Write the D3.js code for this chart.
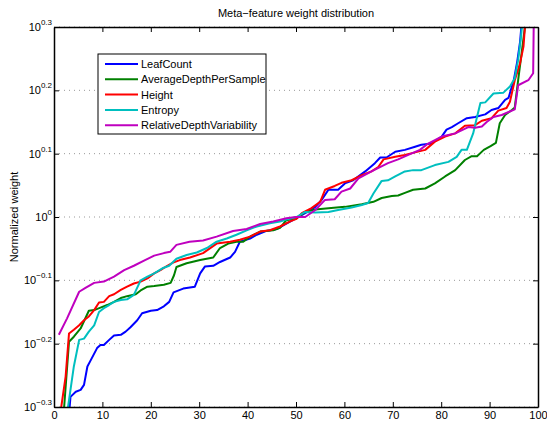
<!doctype html>
<meta charset="utf-8">
<title>Meta-feature weight distribution</title>
<script src="https://cdn.jsdelivr.net/npm/d3@7"></script>
<style>
body { margin: 0; background: #fff; }
svg text { font-family: "Liberation Sans", Arial, sans-serif; fill: #000; }
</style>
<body>
<svg id="chart" width="547" height="421"></svg>
<script>
// values are log10(normalized weight) as [x, exponent]
var leafCount = [[2,-0.42],[3.4,-0.284],[4.5,-0.276],[5.5,-0.273],[6.2,-0.265],[6.9,-0.236],[7.6,-0.226],[8.9,-0.207],[9.6,-0.202],[10.3,-0.202],[11.4,-0.194],[12.4,-0.187],[13.8,-0.186],[14.8,-0.181],[15.8,-0.174],[17.2,-0.163],[18.2,-0.152],[20,-0.148],[21.3,-0.147],[22.7,-0.141],[23.8,-0.134],[24.7,-0.119],[26.7,-0.113],[29.1,-0.11],[30.2,-0.089],[31.2,-0.078],[32.9,-0.077],[34.3,-0.071],[36.4,-0.064],[37.4,-0.055],[38.4,-0.039],[40.5,-0.034],[41.9,-0.028],[43.9,-0.022],[46,-0.019],[48.1,-0.01],[49.8,-0.003],[51.9,0.006],[54,0.016],[55.3,0.027],[56.7,0.043],[58.7,0.043],[60.1,0.053],[61.8,0.058],[64.3,0.072],[66.3,0.085],[67.4,0.094],[68.7,0.094],[70.5,0.103],[72.5,0.106],[74.6,0.111],[75.9,0.114],[78,0.116],[80.1,0.127],[81.1,0.138],[82.2,0.142],[83.5,0.148],[85.3,0.156],[87,0.158],[89.1,0.162],[90.4,0.169],[91.8,0.172],[93.2,0.185],[93.9,0.188],[95,0.216],[95.7,0.245],[96.3,0.277],[97,0.34]];
var avgDepthPerSample = [[1,-0.5],[2,-0.31],[3.1,-0.197],[4.1,-0.189],[5.5,-0.176],[7.2,-0.148],[8.3,-0.147],[9.6,-0.143],[11,-0.139],[12.4,-0.134],[13.8,-0.128],[15.1,-0.125],[16.9,-0.122],[17.9,-0.116],[19.3,-0.11],[20.7,-0.109],[22.7,-0.107],[24.1,-0.104],[24.8,-0.092],[25.3,-0.079],[27.4,-0.073],[30.2,-0.068],[32.9,-0.064],[34.3,-0.049],[36,-0.042],[37.7,-0.039],[39.1,-0.039],[40.5,-0.031],[42.6,-0.023],[45.3,-0.021],[46.7,-0.017],[48,-0.005],[50.1,-0.002],[51.9,0.008],[54,0.012],[56.7,0.014],[60.1,0.016],[63.6,0.02],[66,0.024],[67.7,0.03],[69.8,0.033],[71.1,0.034],[72.5,0.038],[74.2,0.043],[76.7,0.045],[78.7,0.053],[80.8,0.064],[82.9,0.074],[84.9,0.09],[86.3,0.096],[87.4,0.096],[88.8,0.106],[90.2,0.112],[91.3,0.117],[92.1,0.148],[93.2,0.161],[94.6,0.169],[95.2,0.173],[95.9,0.216],[96.6,0.258],[97.3,0.3],[98,0.34]];
var heightVals = [[1,-0.36],[1.5,-0.3],[2.4,-0.252],[3.1,-0.184],[4.1,-0.178],[5.2,-0.171],[6.2,-0.163],[7.2,-0.157],[8.3,-0.147],[9.3,-0.135],[10.3,-0.134],[11.4,-0.125],[12.4,-0.122],[13.8,-0.115],[15.1,-0.11],[16.5,-0.105],[17.9,-0.102],[19.3,-0.097],[20.7,-0.089],[22,-0.084],[23.4,-0.077],[24.6,-0.072],[26,-0.068],[28.1,-0.064],[30.8,-0.057],[33.6,-0.042],[36.4,-0.039],[38.4,-0.036],[40.5,-0.031],[42.6,-0.023],[44.6,-0.021],[46.7,-0.015],[48.8,-0.007],[50.1,-0.003],[51.2,0.006],[53.2,0.014],[55,0.024],[56,0.043],[58,0.049],[59.4,0.054],[61.5,0.058],[63.6,0.066],[65.6,0.072],[67,0.079],[68.1,0.091],[70.5,0.095],[72.5,0.098],[74.6,0.102],[76.7,0.106],[78.7,0.119],[80.8,0.127],[82.9,0.132],[84.9,0.144],[87,0.145],[88.4,0.152],[90.4,0.156],[91.8,0.168],[93.5,0.172],[94.2,0.182],[95.2,0.216],[96.3,0.243],[97,0.269],[97.3,0.3],[98,0.36]];
var entropy = [[2,-0.36],[2.9,-0.3],[4.1,-0.236],[5.2,-0.194],[6.2,-0.192],[7.2,-0.181],[8.3,-0.171],[9.3,-0.15],[10.3,-0.144],[11.4,-0.139],[12.4,-0.134],[13.8,-0.131],[15.1,-0.13],[16.5,-0.123],[17.9,-0.1],[19.3,-0.094],[20.7,-0.089],[22.4,-0.081],[23.8,-0.077],[25.3,-0.066],[27.4,-0.06],[29.5,-0.056],[31.6,-0.049],[33.6,-0.039],[35.7,-0.034],[37.7,-0.028],[39.8,-0.021],[41.9,-0.015],[44.6,-0.01],[46.7,-0.007],[48,-0.004],[50.1,0],[51.9,0.008],[54,0.007],[56.7,0.008],[58.7,0.011],[61.5,0.015],[63.6,0.019],[64.9,0.022],[66,0.037],[67.7,0.057],[69,0.058],[70.5,0.064],[72.5,0.072],[74.2,0.074],[75.9,0.074],[78.7,0.082],[81.5,0.087],[83.2,0.095],[84.2,0.106],[85.3,0.106],[86.6,0.132],[87.4,0.158],[88.1,0.18],[89.1,0.181],[90.8,0.195],[92.8,0.196],[94.2,0.206],[95.2,0.219],[95.9,0.248],[96.5,0.285],[97,0.33]];
var relDepthVariability = [[1,-0.186],[2.7,-0.16],[5.2,-0.118],[6.5,-0.112],[8.3,-0.104],[10.3,-0.102],[12.4,-0.094],[14.5,-0.084],[16.5,-0.077],[18.6,-0.069],[20.7,-0.061],[22.7,-0.057],[24,-0.055],[25.3,-0.044],[28,-0.039],[30.8,-0.037],[33.6,-0.031],[37,-0.022],[39.8,-0.019],[42.6,-0.011],[45.3,-0.007],[48,-0.002],[50,0],[51.9,0],[54,0.011],[56,0.027],[58,0.028],[59.4,0.04],[61.2,0.045],[62.9,0.061],[65.6,0.072],[69,0.085],[71.1,0.091],[73.2,0.098],[75.6,0.106],[77.3,0.116],[80.1,0.127],[82.9,0.132],[85.6,0.142],[87,0.141],[88.4,0.143],[89.4,0.15],[90.8,0.158],[92.5,0.161],[95.2,0.17],[95.9,0.208],[98,0.216],[99,0.227],[99.2,0.36]];

var seriesNames = ["LeafCount", "AverageDepthPerSample", "Height", "Entropy", "RelativeDepthVariability"];
var seriesColors = ["#0000ff", "#008000", "#ff0000", "#00bfbf", "#bf00bf"];
var seriesData = [leafCount, avgDepthPerSample, heightVals, entropy, relDepthVariability];
var xTicks = [0, 10, 20, 30, 40, 50, 60, 70, 80, 90, 100];
var yTickExps = [-0.3, -0.2, -0.1, 0, 0.1, 0.2, 0.3];

var plotL = 54, plotR = 538, plotT = 27, plotB = 407;

var svg = d3.select("#chart");

var x = d3.scaleLinear().domain([0, 100]).range([plotL, plotR]);
var y = d3.scaleLog().domain([Math.pow(10, -0.3), Math.pow(10, 0.3)]).range([plotB, plotT]);

svg.append("defs").append("clipPath").attr("id", "plotclip")
  .append("rect").attr("x", plotL).attr("y", plotT)
  .attr("width", plotR - plotL).attr("height", plotB - plotT);

// dotted horizontal grid
svg.append("g").selectAll("line").data(yTickExps).enter().append("line")
  .attr("x1", plotL).attr("x2", plotR)
  .attr("y1", function(d) { return y(Math.pow(10, d)); })
  .attr("y2", function(d) { return y(Math.pow(10, d)); })
  .attr("stroke", "#999").attr("stroke-width", 1)
  .attr("stroke-dasharray", "1,4");

// curves
var line = d3.line()
  .x(function(d) { return x(d[0]); })
  .y(function(d) { return y(Math.pow(10, d[1])); });

svg.append("g").attr("clip-path", "url(#plotclip)")
  .selectAll("path").data(seriesData).enter().append("path")
  .attr("d", line)
  .attr("fill", "none")
  .attr("stroke", function(d, i) { return seriesColors[i]; })
  .attr("stroke-width", 2)
  .attr("stroke-linejoin", "round");

// axes, MATLAB box style with inward ticks
var yTickVals = yTickExps.map(function(e) { return Math.pow(10, e); });
var xAxisB = d3.axisBottom(x).tickValues(xTicks).tickSizeInner(-5).tickSizeOuter(0).tickPadding(4);
var xAxisT = d3.axisTop(x).tickValues(xTicks).tickSizeInner(-5).tickSizeOuter(0).tickFormat("");
var yAxisL = d3.axisLeft(y).tickValues(yTickVals).tickSizeInner(-5).tickSizeOuter(0).tickFormat("");
var yAxisR = d3.axisRight(y).tickValues(yTickVals).tickSizeInner(-5).tickSizeOuter(0).tickFormat("");

var gxb = svg.append("g").attr("transform", "translate(0," + plotB + ")").call(xAxisB);
svg.append("g").attr("transform", "translate(0," + plotT + ")").call(xAxisT);
svg.append("g").attr("transform", "translate(" + plotL + ",0)").call(yAxisL);
svg.append("g").attr("transform", "translate(" + plotR + ",0)").call(yAxisR);

svg.selectAll(".domain").attr("stroke", "#000").attr("stroke-width", 1.5);
svg.selectAll(".tick line").attr("stroke", "#000");
gxb.selectAll("text").attr("font-size", 11).attr("font-family", "Liberation Sans, Arial, sans-serif");

// y tick labels as 10^exp
var ylab = svg.append("g").selectAll("text").data(yTickExps).enter().append("text")
  .attr("x", plotL - 2)
  .attr("y", function(d) { return y(Math.pow(10, d)) + 4; })
  .attr("text-anchor", "end")
  .attr("font-size", 11);
ylab.append("tspan").text("10");
ylab.append("tspan").attr("font-size", 8).attr("dy", -6)
  .text(function(d) { return d === 0 ? "0" : d3.format(".1f")(d).replace("-", "\u2212"); });

// title and y label
svg.append("text").attr("x", (plotL + plotR) / 2).attr("y", 17)
  .attr("text-anchor", "middle").attr("font-size", 11)
  .text("Meta\u2212feature weight distribution");

svg.append("text").attr("transform", "translate(18," + ((plotT + plotB) / 2) + ") rotate(-90)")
  .attr("text-anchor", "middle").attr("font-size", 11)
  .text("Normalized weight");

// legend
var legend = svg.append("g");
legend.append("rect").attr("x", 98).attr("y", 54).attr("width", 168).attr("height", 80)
  .attr("fill", "#fff").attr("stroke", "#000").attr("stroke-width", 1);
var rows = legend.selectAll("g.row").data(seriesNames).enter().append("g").attr("class", "row")
  .attr("transform", function(d, i) { return "translate(0," + (64 + i * 15.3) + ")"; });
rows.append("line").attr("x1", 105).attr("x2", 138).attr("y1", 0).attr("y2", 0)
  .attr("stroke", function(d, i) { return seriesColors[i]; }).attr("stroke-width", 2);
rows.append("text").attr("x", 141).attr("y", 4).attr("font-size", 11).text(function(d) { return d; });
</script>
</body>
